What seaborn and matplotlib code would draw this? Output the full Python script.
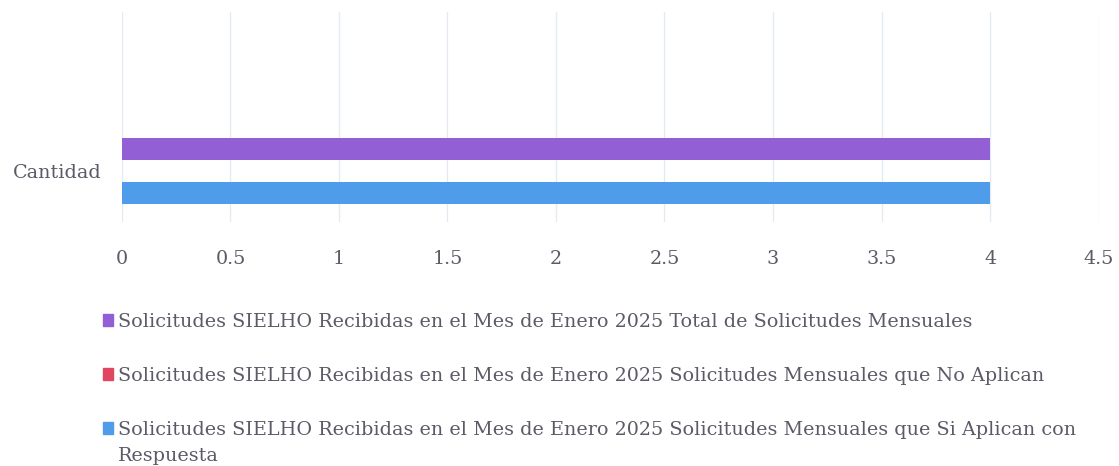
import numpy as np
import pandas as pd
import matplotlib.pyplot as plt
import seaborn as sns

# data
categoria = ['Cantidad']
series = ['Solicitudes SIELHO Recibidas en el Mes de Enero 2025 Total de Solicitudes Mensuales',
          'Solicitudes SIELHO Recibidas en el Mes de Enero 2025 Solicitudes Mensuales que No Aplican',
          'Solicitudes SIELHO Recibidas en el Mes de Enero 2025 Solicitudes Mensuales que Si Aplican con']
resto_ultima = 'Respuesta'
valores = [4, 0, 4]
colores = ['#9260d4', '#e0465f', '#4f9ceb']
ticks = [0, 0.5, 1, 1.5, 2, 2.5, 3, 3.5, 4, 4.5]
tick_labels = ['0', '0.5', '1', '1.5', '2', '2.5', '3', '3.5', '4', '4.5']

df = pd.DataFrame({'cat': categoria * len(series), 'serie': series, 'valor': valores})

sns.set_style('white')
plt.rcParams['font.family'] = ['DejaVu Serif']
txt_color = '#5b5b68'
fs = 13.8

fig = plt.figure(figsize=(11.19, 4.66), dpi=100)
ax = fig.add_axes([0.109, 0.524, 0.8727, 0.45])

sns.barplot(data=df, x='valor', y='cat', hue='serie', hue_order=series,
            palette=colores, orient='h', width=0.66, saturation=1,
            linewidth=0, legend=False, ax=ax)

ax.set_xlim(0, 4.5)
ax.set_ylim(0.51, -1.59)
ax.set_xticks(ticks)
ax.set_xticklabels(tick_labels)
ax.grid(axis='x', color='#e3ebf0', linewidth=1)
ax.set_axisbelow(True)
for s in ax.spines.values():
    s.set_visible(False)
ax.set_xlabel('')
ax.set_ylabel('')
ax.tick_params(axis='both', length=0, labelsize=fs, labelcolor=txt_color)
ax.tick_params(axis='x', pad=20)
ax.tick_params(axis='y', pad=15)

handles = [plt.Rectangle((0, 0), 1, 1, color=c) for c in colores]
leg = fig.legend(handles, series, loc='upper left', bbox_to_anchor=(0.085, 0.345),
                 frameon=False, fontsize=fs, labelcolor=txt_color,
                 handlelength=0.55, handleheight=0.55, handletextpad=0.25,
                 labelspacing=1.88, borderaxespad=0)

# second line of the last legend entry
fig.canvas.draw()
bb = leg.get_texts()[2].get_window_extent().transformed(fig.transFigure.inverted())
fig.text(bb.x0, bb.y0 - 0.018, resto_ultima, fontsize=fs, color=txt_color,
         ha='left', va='top')

fig.savefig('out.png', dpi=100)
